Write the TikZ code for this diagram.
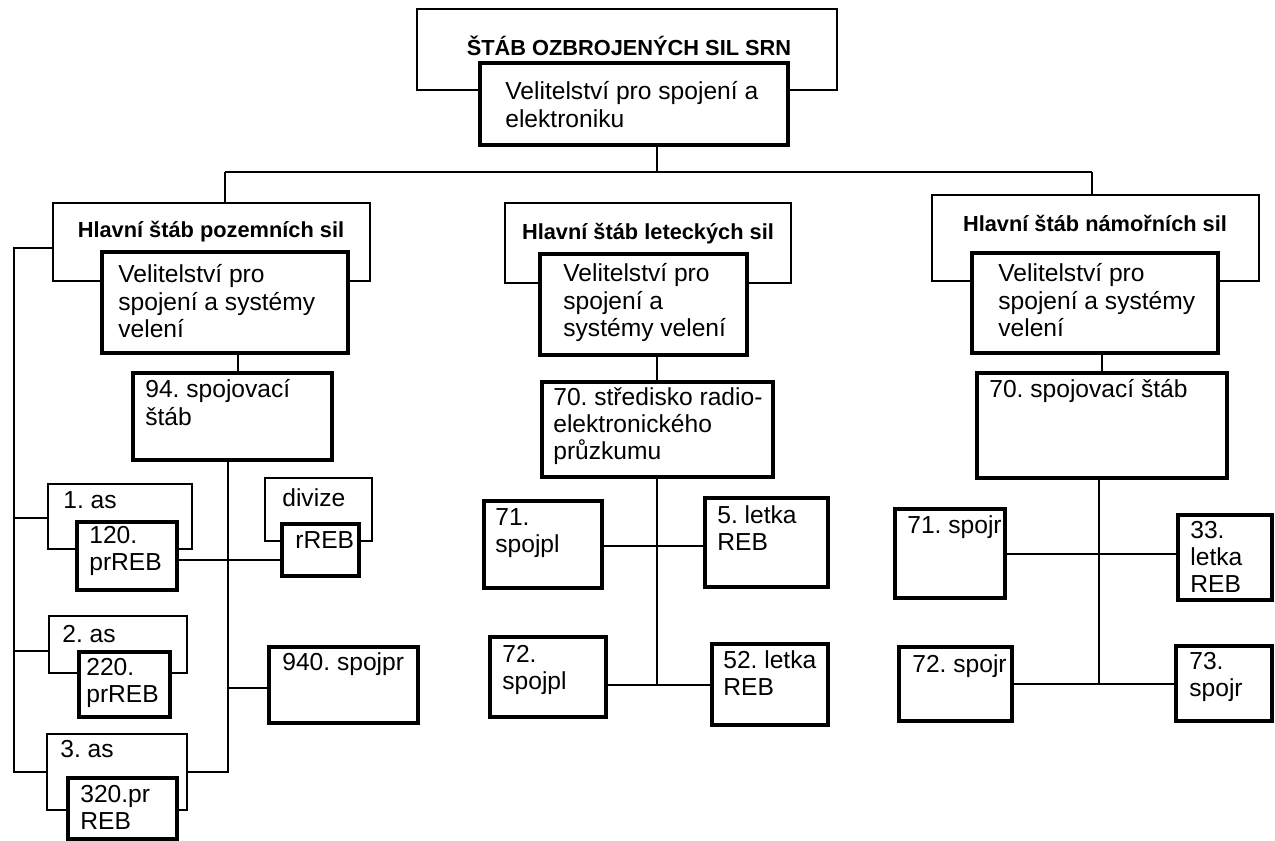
\documentclass[tikz,border=0pt]{standalone}
\usepackage{fontspec}
\setmainfont{Liberation Sans}
\frenchspacing
\newcommand\mltext[1]{\vtop{\baselineskip=15.4pt\lineskiplimit=-100pt\halign{##\hfil\cr#1\crcr}}}
\newcommand\orgbox[6]{\node[#1, minimum width={(#5-#3)*0.02cm}, minimum height={(#6-#4)*0.02cm}] (#2) at (#3,#4) {};}
\begin{document}
\begin{tikzpicture}[x=0.02cm,y=-0.02cm,
  outerbox/.style={draw, line width=1.5pt, fill=white, inner sep=0pt, outer sep=0pt, anchor=north west},
  midbox/.style={draw, line width=1.8pt, fill=white, inner sep=0pt, outer sep=0pt, anchor=north west},
  innerbox/.style={draw, line width=2.2pt, fill=white, inner sep=0pt, outer sep=0pt, anchor=north west},
  conn/.style={line width=1.1pt},
  txt/.style={inner sep=0pt, anchor=base west, font=\fontsize{14}{15.4}\selectfont\frenchspacing},
  head/.style={inner sep=0pt, anchor=base, font=\fontsize{12.4}{14}\selectfont\bfseries}]
\fill[white] (0,0) rectangle (1275,841);
\useasboundingbox (0,0) rectangle (1275,841);

% ---- top
\orgbox{outerbox}{topout}{417}{9}{837}{90}
\orgbox{innerbox}{topin}{480}{63}{788}{145}
% ---- left column
\orgbox{outerbox}{Lout}{53}{203}{370}{281}
\orgbox{innerbox}{Lin}{102}{252}{348}{353}
\orgbox{midbox}{L94}{133}{373}{332}{460}
\orgbox{outerbox}{as1}{48}{484}{192}{549}
\orgbox{innerbox}{p120}{77}{522}{177}{590}
\orgbox{outerbox}{div}{265}{478}{372}{541}
\orgbox{innerbox}{rreb}{282}{524}{359}{576}
\orgbox{outerbox}{as2}{49}{616}{187}{673}
\orgbox{innerbox}{p220}{79}{652}{170}{717}
\orgbox{innerbox}{s940}{269}{647}{418}{723}
\orgbox{outerbox}{as3}{47}{734}{187}{810}
\orgbox{innerbox}{p320}{68}{778}{177}{839}
% ---- middle column
\orgbox{outerbox}{Mout}{505}{203}{791}{283}
\orgbox{innerbox}{Min}{540}{254}{747}{355}
\orgbox{midbox}{M70}{542}{382}{773}{477}
\orgbox{innerbox}{M71}{484}{501}{602}{588}
\orgbox{innerbox}{M5}{705}{498}{828}{587}
\orgbox{innerbox}{M72}{490}{637}{606}{717}
\orgbox{innerbox}{M52}{712}{644}{828}{725}
% ---- right column
\orgbox{outerbox}{Rout}{932}{195}{1259}{281}
\orgbox{innerbox}{Rin}{972}{253}{1218}{353}
\orgbox{midbox}{R70}{977}{373}{1227}{478}
\orgbox{innerbox}{R71}{895}{509}{1005}{598}
\orgbox{innerbox}{R33}{1178}{515}{1272}{600}
\orgbox{innerbox}{R72}{899}{647}{1012}{721}
\orgbox{innerbox}{R73}{1176}{646}{1272}{721}

% ---- junction coordinates
\coordinate (topj) at (657,172);
\coordinate (hl) at (225,172);
\coordinate (hr) at (1092,172);
\coordinate (lsTop) at (14,248);
\coordinate (lsBot) at (14,772);
\coordinate (ls1) at (14,518);
\coordinate (ls2) at (14,651);
\coordinate (sp94) at (228,460);
\coordinate (spBot) at (228,772);
\coordinate (sp940) at (228,688);
\coordinate (Lc) at (238,0);
\coordinate (y120) at (0,560);
\coordinate (Mc) at (657,0);
\coordinate (Mj1) at (657,546);
\coordinate (Mj2) at (657,685);
\coordinate (Rc) at (1102,0);
\coordinate (Rs) at (1099,0);
\coordinate (Rj1) at (1099,554);
\coordinate (Rj2) at (1099,684);

% ---- connectors
\draw[conn] (topin.south -| topj) -- (topj);
\draw[conn] (hl) -- (hr);
\draw[conn] (hl) -- (Lout.north -| hl);
\draw[conn] (hr) -- (Rout.north -| hr);
\draw[conn] (Lout.west |- lsTop) -- (lsTop) -- (lsBot) -- (as3.west |- lsBot);
\draw[conn] (ls1) -- (as1.west |- ls1);
\draw[conn] (ls2) -- (as2.west |- ls2);
\draw[conn] (Lin.south -| Lc) -- (L94.north -| Lc);
\draw[conn] (L94.south -| sp94) -- (spBot) -- (as3.east |- spBot);
\draw[conn] (p120.east |- y120) -- (rreb.west |- y120);
\draw[conn] (sp940) -- (s940.west |- sp940);
\draw[conn] (Min.south -| Mc) -- (M70.north -| Mc);
\draw[conn] (M70.south -| Mc) -- (Mj2);
\draw[conn] (M71.east |- Mj1) -- (M5.west |- Mj1);
\draw[conn] (M72.east |- Mj2) -- (M52.west |- Mj2);
\draw[conn] (Rin.south -| Rc) -- (R70.north -| Rc);
\draw[conn] (R70.south -| Rs) -- (Rj2);
\draw[conn] (R71.east |- Rj1) -- (R33.west |- Rj1);
\draw[conn] (R72.east |- Rj2) -- (R73.west |- Rj2);

% ---- texts
\node[head] (t-title) at (629,56) {ŠTÁB OZBROJENÝCH SIL SRN};
\node[txt] (t-topin) at (505,100) {\mltext{Velitelství pro spojení a\cr elektroniku}};
\node[head] (t-Lout) at (211,238) {Hlavní štáb pozemních sil};
\node[txt] (t-Lin) at (118,283) {\mltext{Velitelství pro\cr spojení a systémy\cr velení}};
\node[txt] (t-L94) at (145,398) {\mltext{94. spojovací\cr štáb}};
\node[txt] (t-as1) at (63,508) {1. as};
\node[txt] (t-p120) at (89,543) {\mltext{120.\cr prREB}};
\node[txt] (t-div) at (282,506) {divize};
\node[txt] (t-rreb) at (295,548) {rREB};
\node[txt] (t-as2) at (62,642) {2. as};
\node[txt] (t-p220) at (86,675) {\mltext{220.\cr prREB}};
\node[txt] (t-s940) at (282,670) {940. spojpr};
\node[txt] (t-as3) at (60,757) {3. as};
\node[txt] (t-p320) at (80,802) {\mltext{320.pr\cr REB}};
\node[head] (t-Mout) at (648,240) {Hlavní štáb leteckých sil};
\node[txt] (t-Min) at (563,282) {\mltext{Velitelství pro\cr spojení a\cr systémy velení}};
\node[txt] (t-M70) at (553,405) {\mltext{70. středisko radio-\cr elektronického\cr průzkumu}};
\node[txt] (t-M71) at (495,525) {\mltext{71.\cr spojpl}};
\node[txt] (t-M5) at (717,523) {\mltext{5. letka\cr REB}};
\node[txt] (t-M72) at (502,662) {\mltext{72.\cr spojpl}};
\node[txt] (t-M52) at (723,668) {\mltext{52. letka\cr REB}};
\node[head] (t-Rout) at (1095,232) {Hlavní štáb námořních sil};
\node[txt] (t-Rin) at (998,282) {\mltext{Velitelství pro\cr spojení a systémy\cr velení}};
\node[txt] (t-R70) at (989,398) {70. spojovací štáb};
\node[txt] (t-R71) at (907,533) {71. spojr};
\node[txt] (t-R33) at (1190,538) {\mltext{33.\cr letka\cr REB}};
\node[txt] (t-R72) at (912,672) {72. spojr};
\node[txt] (t-R73) at (1189,669) {\mltext{73.\cr spojr}};
\end{tikzpicture}
\end{document}
